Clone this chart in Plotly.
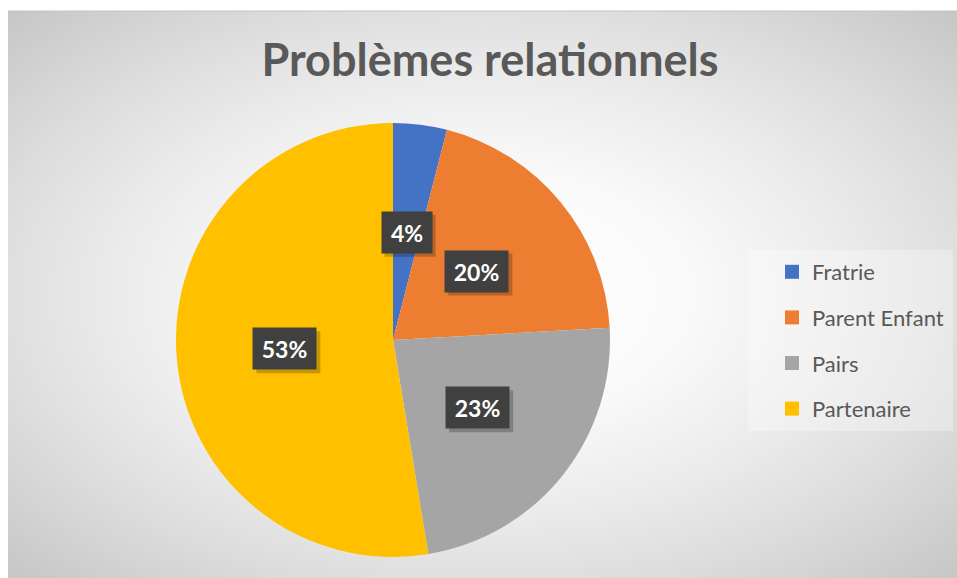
import base64
import math
import plotly.graph_objects as go

# ---- data ----
categories = ["Fratrie", "Parent Enfant", "Pairs", "Partenaire"]
values = [4.0, 20.1, 23.3, 52.6]
colors = ["#4472C4", "#ED7D31", "#A5A5A5", "#FFC000"]
title_text = "Problèmes relationnels"

W, H = 957, 578
FONT = "Lato"

# pie domain (paper fractions)
dom_x = [176 / W, 610 / W]
dom_y = [1 - 557 / H, 1 - 123 / H]

fig = go.Figure()
fig.add_trace(go.Pie(
    labels=categories, values=values, marker=dict(colors=colors, line=dict(width=0)),
    sort=False, direction="clockwise", rotation=0,
    textinfo="none", hoverinfo="label+percent", showlegend=False,
    domain=dict(x=dom_x, y=dom_y),
))

# legend entries (one per category, grouped for spacing)
for cat, col in zip(categories, colors):
    fig.add_trace(go.Scatter(
        x=[None], y=[None], mode="markers", name=cat, legendgroup=cat,
        marker=dict(symbol="square", size=14, color=col), showlegend=True,
    ))

# data labels in dark boxes, placed from cumulative percentages
total = sum(values)
cx = (dom_x[0] + dom_x[1]) / 2 * W
cy = (1 - (dom_y[0] + dom_y[1]) / 2) * H
R = min((dom_x[1] - dom_x[0]) * W, (dom_y[1] - dom_y[0]) * H) / 2
cum = 0.0
annotations = []
shadow_shapes = []
for v in values:
    mid = (cum + v / 2) / total * 2 * math.pi
    cum += v
    px = cx + 0.5 * R * math.sin(mid)
    py = cy - 0.5 * R * math.cos(mid)
    txt = f"{round(v / total * 100)}%"
    bw = 13 * len(txt) + 24
    ax, ay = px / W, 1 - py / H
    shadow_shapes.append(dict(type="rect", xref="paper", yref="paper",
                              xsizemode="pixel", ysizemode="pixel", xanchor=ax, yanchor=ay,
                              x0=-bw / 2 + 3, x1=bw / 2 + 4, y0=-41 / 2 - 4, y1=41 / 2 - 3,
                              fillcolor="rgba(0,0,0,0.22)", line=dict(width=0), layer="above"))
    annotations.append(dict(text=f"<b>{txt}</b>", x=ax, y=ay, xref="paper", yref="paper",
                            xanchor="center", yanchor="middle",
                            showarrow=False, width=bw, height=41, borderpad=0,
                            align="center", valign="middle", bgcolor="#404040",
                            font=dict(family=FONT, size=23, color="white")))

# background gradient (chart area)
svg = f'''<svg xmlns="http://www.w3.org/2000/svg" width="949" height="567" preserveAspectRatio="none">
<defs><radialGradient id="g" cx="50%" cy="50%" r="70.7%">
<stop offset="0" stop-color="#ffffff"/>
<stop offset="0.3" stop-color="#fafafa"/>
<stop offset="0.55" stop-color="#ebebeb"/>
<stop offset="0.75" stop-color="#dcdcdc"/>
<stop offset="1" stop-color="#c6c6c6"/>
</radialGradient></defs>
<rect width="949" height="567" fill="url(#g)"/></svg>'''
src = "data:image/svg+xml;base64," + base64.b64encode(svg.encode()).decode()

fig.update_layout(
    width=W, height=H,
    margin=dict(l=0, r=0, t=0, b=0),
    paper_bgcolor="white", plot_bgcolor="rgba(0,0,0,0)",
    xaxis=dict(visible=False), yaxis=dict(visible=False),
    title=dict(text=f"<b>{title_text}</b>", x=490 / W, xanchor="center", y=1 - 60 / H, yanchor="middle",
               font=dict(family=FONT, size=45, color="#595959")),
    legend=dict(x=772 / W, xanchor="left", y=1 - 251 / H, yanchor="top",
                bgcolor="rgba(0,0,0,0)", font=dict(family=FONT, size=22, color="#595959"),
                tracegroupgap=14, itemsizing="trace"),
    annotations=annotations,
    images=[dict(source=src, xref="paper", yref="paper", x=8 / W, y=1 - 11 / H,
                 sizex=(W - 8) / W, sizey=(H - 11) / H, sizing="stretch", layer="below",
                 xanchor="left", yanchor="top")],
    shapes=[dict(type="rect", xref="paper", yref="paper", x0=748 / W, x1=953 / W,
                 y0=1 - 431 / H, y1=1 - 250 / H, fillcolor="rgba(255,255,255,0.3)",
                 line=dict(width=0), layer="below"),
            dict(type="line", xref="paper", yref="paper", x0=8 / W, x1=1, y0=1 - 11 / H, y1=1 - 11 / H,
                 line=dict(color="#c4c4c4", width=1))] + shadow_shapes,
)

fig.write_html("out.html", config={"displayModeBar": False},
               post_script="document.body.style.margin='0';document.body.style.overflow='hidden';")
